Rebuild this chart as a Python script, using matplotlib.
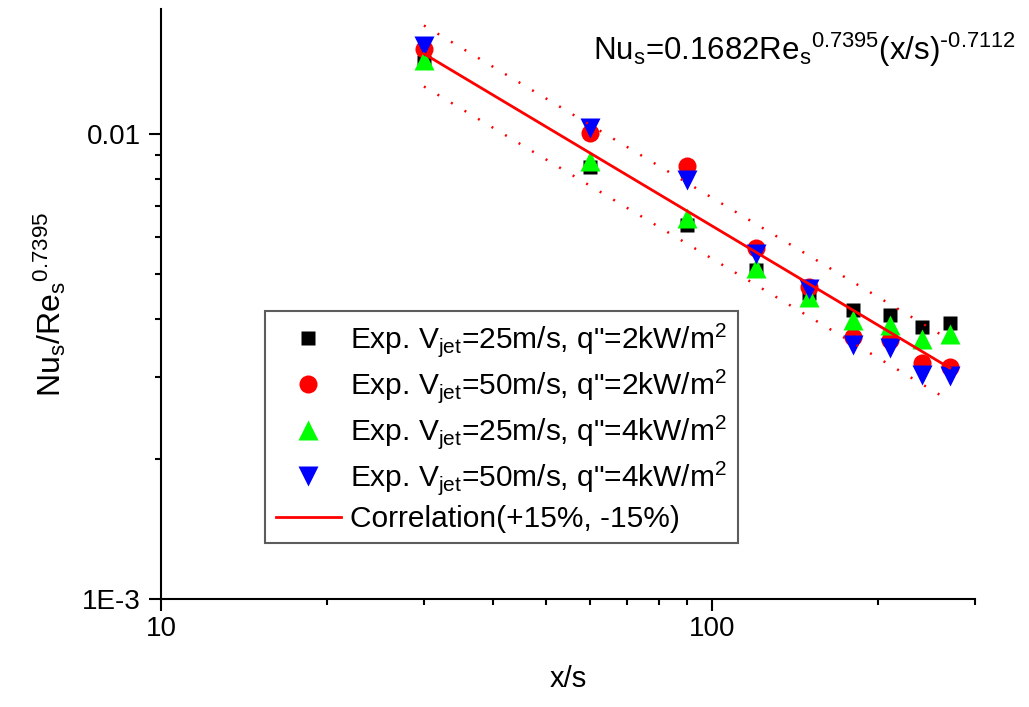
import numpy as np
import matplotlib
matplotlib.use("Agg")
import matplotlib.pyplot as plt
from matplotlib.ticker import FixedLocator, FixedFormatter, LogLocator, NullFormatter

plt.rcParams['font.family'] = ['Liberation Sans', 'DejaVu Sans']
plt.rcParams['mathtext.default'] = 'regular'

# x/s positions of measurements
xs = [30, 60, 90, 120, 150, 180, 210, 240, 270]

# Nu_s / Re_s^0.7395
v25_q2 = [0.01428, 0.00849, 0.00637, 0.00510, 0.00455, 0.00418, 0.00408, 0.00384, 0.00392]
v50_q2 = [0.01523, 0.01005, 0.00853, 0.00569, 0.00469, 0.00366, 0.00360, 0.00322, 0.00315]
v25_q4 = [0.01443, 0.00875, 0.00660, 0.00515, 0.00446, 0.00398, 0.00388, 0.00362, 0.00372]
v50_q4 = [0.01547, 0.01030, 0.00796, 0.00552, 0.00464, 0.00352, 0.00346, 0.00303, 0.00302]

# correlation line and +/-15% band (end points)
corr_x = [30, 270]
corr_y = [0.01490, 0.00314]
band_hi = [0.01714, 0.00361]
band_lo = [0.01267, 0.00267]

fig = plt.figure(figsize=(10.29, 7.07), dpi=100)
ax = fig.add_axes([0.1565, 0.1528, 0.791, 0.8345])

ax.plot(xs, v25_q2, 's', color='black', ms=10.5, mec='none',
        label='Exp. V$_{jet}$=25m/s, q"=2kW/m$^{2}$')
ax.plot(xs, v50_q2, 'o', color='#ff0000', ms=13, mec='none',
        label='Exp. V$_{jet}$=50m/s, q"=2kW/m$^{2}$')
ax.plot(xs, v25_q4, '^', color='#00ff00', ms=14, mec='none',
        label='Exp. V$_{jet}$=25m/s, q"=4kW/m$^{2}$')
ax.plot(xs, v50_q4, 'v', color='#0000ff', ms=14, mec='none',
        label='Exp. V$_{jet}$=50m/s, q"=4kW/m$^{2}$')
ax.plot(corr_x, corr_y, '-', color='#ff0000', lw=2,
        label='Correlation(+15%, -15%)')
ax.plot(corr_x, band_hi, color='#ff0000', lw=1.8, ls=(0, (0.8, 5.5)))
ax.plot(corr_x, band_lo, color='#ff0000', lw=1.8, ls=(0, (0.8, 5.5)))

ax.set_xscale('log')
ax.set_yscale('log')
ax.set_xlim(10, 300)
ax.set_ylim(0.001, 0.0186)

ax.xaxis.set_major_locator(FixedLocator([10, 100]))
ax.xaxis.set_major_formatter(FixedFormatter(['10', '100']))
ax.xaxis.set_minor_locator(LogLocator(base=10, subs=np.arange(2, 10)))
ax.xaxis.set_minor_formatter(NullFormatter())
ax.yaxis.set_major_locator(FixedLocator([0.001, 0.01]))
ax.yaxis.set_major_formatter(FixedFormatter(['1E-3', '0.01']))
ax.yaxis.set_minor_locator(LogLocator(base=10, subs=np.arange(2, 10)))
ax.yaxis.set_minor_formatter(NullFormatter())

for s in ['top', 'right']:
    ax.spines[s].set_visible(False)
for s in ['left', 'bottom']:
    ax.spines[s].set_linewidth(1.5)
ax.tick_params(which='major', direction='out', length=8.5, width=1.5, labelsize=20)
ax.tick_params(axis='y', which='major', pad=6)
ax.tick_params(axis='x', which='major', pad=4)
ax.tick_params(which='minor', direction='out', length=4.5, width=1.5)

ax.set_xlabel('x/s', fontsize=21, labelpad=16)
ax.set_ylabel('Nu$_{s}$/Re$_{s}$$^{0.7395}$', fontsize=23, labelpad=10)

ax.text(0.531, 0.9136, r'Nu$_{s}$=0.1682Re$_{s}$$^{0.7395}$(x/s)$^{\text{-}0.7112}$',
        transform=ax.transAxes, fontsize=22.5, va='baseline')

leg = ax.legend(loc='upper left', bbox_to_anchor=(0.1278, 0.488), borderaxespad=0,
                fontsize=21.5, frameon=True, fancybox=False, handlelength=2.2,
                handletextpad=0.3, borderpad=0.35, labelspacing=0.27)
leg.get_frame().set_edgecolor('#333333')
leg.get_frame().set_linewidth(1.5)

fig.savefig('out.png', dpi=100)
